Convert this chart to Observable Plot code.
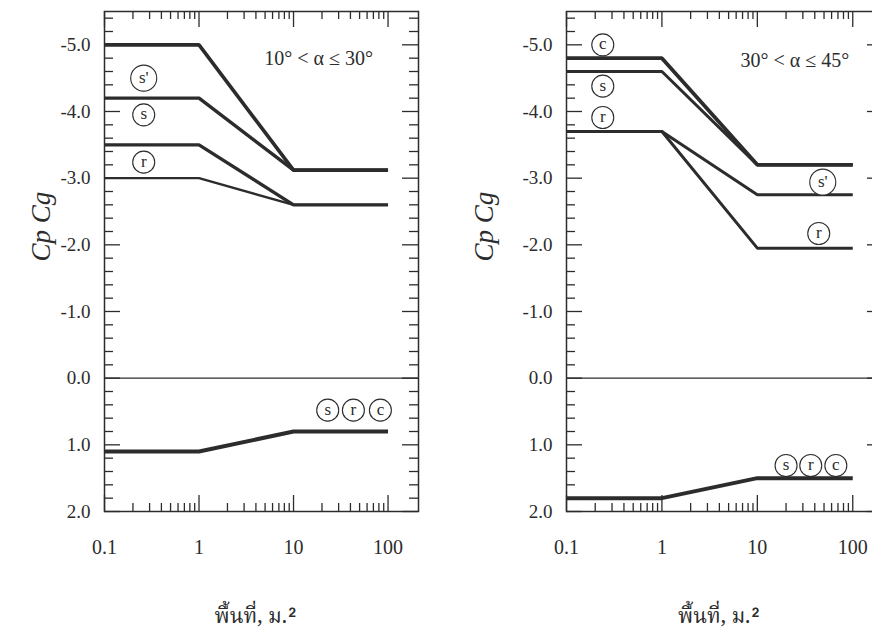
<!DOCTYPE html>
<html><head><meta charset="utf-8">
<script src="https://cdn.jsdelivr.net/npm/d3@7"></script>
<script src="https://cdn.jsdelivr.net/npm/@observablehq/plot@0.6"></script>
<style>
html,body{margin:0;padding:0;background:#fff;}
#wrap{position:relative;width:872px;height:638px;overflow:hidden;background:#fff;}
#wrap svg{position:absolute;top:0;}
</style></head><body><div id="wrap"></div>
<script>
// ---- data ----
const area = [0.1, 1, 10, 100];               // area breakpoints, m^2
// left panel: 10° < α ≤ 30°
const leftSPrime = [-5.0, -5.0, -3.12, -3.12];
const leftS      = [-4.2, -4.2, -3.12, -3.12];
const leftR      = [-3.5, -3.5, -2.6, -2.6];
const leftR2     = [-3.0, -3.0, -2.6, -2.6];
const leftPos    = [1.1, 1.1, 0.8, 0.8];
// right panel: 30° < α ≤ 45°
const rightC      = [-4.8, -4.8, -3.2, -3.2];
const rightS      = [-4.6, -4.6, -3.2, -3.2];
const rightSPrime = [-3.7, -3.7, -2.75, -2.75];
const rightR      = [-3.7, -3.7, -1.95, -1.95];
const rightPos    = [1.8, 1.8, 1.5, 1.5];
// zone labels (circled)
const leftLabelText = ["s'", "s", "r", "s", "r", "c"];
const leftLabelX    = [0.26, 0.26, 0.26, 23, 43, 83];
const leftLabelY    = [-4.5, -3.95, -3.24, 0.48, 0.48, 0.48];
const leftLabelBig  = [true, false, false, false, false, false];
const rightLabelText = ["c", "s", "r", "s'", "r", "s", "r", "c"];
const rightLabelX    = [0.24, 0.24, 0.24, 48.5, 44, 20, 36.3, 66.5];
const rightLabelY    = [-5.0, -4.38, -3.91, -2.94, -2.17, 1.31, 1.31, 1.31];
const rightLabelBig  = [false, false, false, true, false, false, false, false];
// panel titles
const leftAngle = "10° < α ≤ 30°";
const rightAngle = "30° < α ≤ 45°";
const leftAngleAt = [18.4, -4.8];
const rightAngleAt = [24.7, -4.76];
// axes
const yMajor = [-5, -4, -3, -2, -1, 0, 1, 2];
const xMajor = [0.1, 1, 10, 100];
const xMinor = [0.2,0.3,0.4,0.5,0.6,0.7,0.8,0.9, 2,3,4,5,6,7,8,9, 20,30,40,50,60,70,80,90];
const yMinor = d3.range(-54, 20, 2).map(v => v / 10).filter(v => !yMajor.includes(v));
const yTitle = "Cp Cg";
const xTitle = "พื้นที่, ม.²";

const ink = "#2c2c2c";
const serif = "'Liberation Serif', 'Times New Roman', serif";
const thaiFont = "'Noto Serif Thai','Noto Sans Thai','Tlwg Typo','Garuda','Loma','Liberation Serif',serif";

function rows(vals) { return area.map((a, i) => ({area: a, v: vals[i]})); }
function labels(t, x, y, big) { return t.map((s, i) => ({t: s, x: x[i], y: y[i], big: big[i]})); }

function panel({left, width, mLeft, mRight, series, lab, angle, angleAt, yTitleDx}) {
  const mTop = 11, mBottom = 127, height = 638;
  const FW = width - mLeft - mRight, FH = height - mTop - mBottom;
  const lineMarks = series.map(([vals, w]) =>
    Plot.line(rows(vals), {x: "area", y: "v", stroke: ink, strokeWidth: w, strokeLinejoin: "miter", strokeLinecap: "butt"}));
  const svg = Plot.plot({
    width, height, marginLeft: mLeft, marginRight: mRight, marginTop: mTop, marginBottom: mBottom,
    style: {fontFamily: serif, fontSize: "19px", color: ink, background: "transparent"},
    x: {type: "log", domain: [0.1, 210], axis: null},
    y: {domain: [-5.5, 2], reverse: true, axis: null},
    r: {type: "identity"},
    marks: [
      Plot.ruleY([0], {stroke: ink, strokeWidth: 1.2}),
      // inward ticks, left & right
      Plot.tickY(yMajor, {y: d => d, insetRight: FW - 16, stroke: ink, strokeWidth: 1.3}),
      Plot.tickY(yMinor, {y: d => d, insetRight: FW - 9, stroke: ink, strokeWidth: 1.3}),
      Plot.tickY(yMajor, {y: d => d, insetLeft: FW - 16, stroke: ink, strokeWidth: 1.3}),
      Plot.tickY(yMinor, {y: d => d, insetLeft: FW - 9, stroke: ink, strokeWidth: 1.3}),
      // inward ticks, top & bottom
      Plot.tickX(xMajor, {x: d => d, insetTop: FH - 16, stroke: ink, strokeWidth: 1.3}),
      Plot.tickX(xMinor, {x: d => d, insetTop: FH - 8, stroke: ink, strokeWidth: 1.3}),
      Plot.tickX(xMajor, {x: d => d, insetBottom: FH - 16, stroke: ink, strokeWidth: 1.3}),
      Plot.tickX(xMinor, {x: d => d, insetBottom: FH - 8, stroke: ink, strokeWidth: 1.3}),
      Plot.frame({stroke: ink, strokeWidth: 1.5}),
      Plot.axisY(yMajor, {anchor: "left", tickSize: 0, tickPadding: 14, tickFormat: d => d.toFixed(1), fontSize: 19, fill: ink}),
      Plot.axisX(xMajor, {anchor: "bottom", tickSize: 0, tickPadding: 28, tickFormat: d => String(d), fontSize: 20, fill: ink}),
      ...lineMarks,
      Plot.dot(lab, {x: "x", y: "y", r: d => d.big ? 13 : 11, stroke: ink, strokeWidth: 1.1, fill: "white"}),
      Plot.text(lab, {x: "x", y: "y", text: "t", fontSize: 17, fill: ink, dy: -1}),
      Plot.text([angle], {x: () => angleAt[0], y: () => angleAt[1], text: d => d, fontSize: 20, fill: ink}),
      Plot.text([yTitle], {frameAnchor: "left", y: () => -1.75, text: d => d, rotate: -90, dx: yTitleDx, fontSize: 27, fontStyle: "italic", fill: ink}),
      Plot.text([xTitle], {x: () => 4, frameAnchor: "bottom", text: d => d, dy: 111, fontSize: 21, fill: ink, fontFamily: thaiFont})
    ]
  });
  svg.style.left = left + "px";
  return svg;
}

const wrap = document.getElementById("wrap");
wrap.append(panel({
  left: 0, width: 440, mLeft: 104, mRight: 22,
  series: [[leftSPrime, 3.6], [leftS, 3.4], [leftR, 3.4], [leftR2, 2.4], [leftPos, 4]],
  lab: labels(leftLabelText, leftLabelX, leftLabelY, leftLabelBig),
  angle: leftAngle, angleAt: leftAngleAt, yTitleDx: -63
}));
wrap.append(panel({
  left: 440, width: 460, mLeft: 126, mRight: 17,
  series: [[rightC, 3.8], [rightS, 3.0], [rightSPrime, 3.0], [rightR, 3.0], [rightPos, 4]],
  lab: labels(rightLabelText, rightLabelX, rightLabelY, rightLabelBig),
  angle: rightAngle, angleAt: rightAngleAt, yTitleDx: -82
}));
</script></body></html>
